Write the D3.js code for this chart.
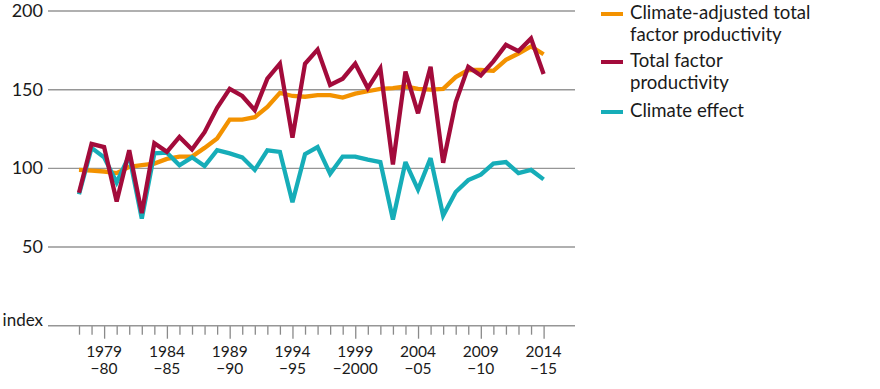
<!DOCTYPE html>
<html>
<head>
<meta charset="utf-8">
<script src="https://cdn.jsdelivr.net/npm/d3@7"></script>
<style>
  body { margin: 0; background: #fff; }
  text { font-family: Lato, "Open Sans", sans-serif; fill: #1a1a1a; }
</style>
</head>
<body>
<svg id="chart"></svg>
<script>
const years = d3.range(1977, 2015);

const adjusted = [99, 98.5, 98, 97, 101, 102, 103, 106, 107.5, 107.5, 113, 119, 131, 131, 132.5, 139, 148, 146,
  145.5, 146.5, 146.5, 145, 147.5, 149, 150.5, 151, 152, 150.5, 150, 150.5, 158, 162.5, 162.5, 162, 169, 173, 177.5, 172.5];

const tfp = [84.5, 115.5, 113.5, 79, 111.5, 71.5, 116, 110.5, 120, 112, 123, 138.5, 150.5, 146, 137, 157, 166.5, 119.5,
  166.5, 175.5, 153, 157, 166.5, 151, 163.5, 102.5, 161.5, 135, 164.5, 103.5, 142, 164.5, 159, 168, 178.5, 174.5, 182.5, 160];

const climate = [83.5, 113, 107, 91, 108, 68, 109.5, 110, 102, 107, 101.5, 111.5, 109.5, 107, 99, 111.5, 110.5, 78.5,
  109, 113.5, 96.5, 107.5, 107.5, 105.5, 104, 67.5, 104, 86.5, 106.5, 70, 85, 92.5, 96, 103, 104, 97, 99, 93];

const yTicks = [50, 100, 150, 200];
const majorYears = [1979, 1984, 1989, 1994, 1999, 2004, 2009, 2014];
const secondLine = ["\u221280", "\u221285", "\u221290", "\u221295", "\u22122000", "\u221205", "\u221210", "\u221215"];

const series = [
  { name: ["Climate-adjusted total", "factor productivity"], values: adjusted, color: "#f39200" },
  { name: ["Total factor", "productivity"], values: tfp, color: "#a30b3b" },
  { name: ["Climate effect"], values: climate, color: "#16adb8" }
];
const drawOrder = [0, 2, 1];

const width = 880;
const height = 389;
const gridLeft = 48, gridRight = 575;

const svg = d3.select("#chart")
  .attr("width", width)
  .attr("height", height);

const x = d3.scaleLinear()
  .domain([1977, 2014])
  .range([79, 543.6]);

const y = d3.scaleLinear()
  .domain([0, 200])
  .range([325.7, 11]);

// gridlines and y labels
svg.selectAll(".grid")
  .data(yTicks)
  .enter()
  .append("line")
  .attr("x1", gridLeft)
  .attr("x2", gridRight)
  .attr("y1", d => y(d))
  .attr("y2", d => y(d))
  .attr("stroke", "#969696")
  .attr("stroke-width", 1.4);

svg.selectAll(".ylab")
  .data(yTicks)
  .enter()
  .append("text")
  .attr("x", 43)
  .attr("y", d => y(d) + 6)
  .attr("text-anchor", "end")
  .style("font-size", "18px")
  .text(d => d);

// x axis, a tick for every year
const xAxis = d3.axisBottom(x)
  .tickValues(years)
  .tickSize(9)
  .tickFormat("");

const axisG = svg.append("g")
  .attr("transform", `translate(0, ${y(0)})`)
  .call(xAxis);

axisG.select(".domain").remove();
axisG.selectAll(".tick line")
  .attr("stroke", "#8a8a8a")
  .attr("stroke-width", 1.3)
  .attr("y2", d => majorYears.includes(d) ? 13 : 9);

svg.append("line")
  .attr("x1", gridLeft)
  .attr("x2", gridRight)
  .attr("y1", y(0))
  .attr("y2", y(0))
  .attr("stroke", "#969696")
  .attr("stroke-width", 1.4);

svg.selectAll(".xlab1")
  .data(majorYears)
  .enter()
  .append("text")
  .attr("x", d => x(d))
  .attr("y", 357)
  .attr("text-anchor", "middle")
  .style("font-size", "15.5px")
  .text(d => d);

svg.selectAll(".xlab2")
  .data(majorYears)
  .enter()
  .append("text")
  .attr("x", d => x(d))
  .attr("y", 374)
  .attr("text-anchor", "middle")
  .style("font-size", "15.5px")
  .text((d, i) => secondLine[i]);

svg.append("text")
  .attr("x", 43)
  .attr("y", y(0))
  .attr("text-anchor", "end")
  .style("font-size", "17px")
  .text("index");

// lines
const line = d3.line()
  .x((d, i) => x(years[i]))
  .y(d => y(d));

drawOrder.forEach(k => {
  svg.append("path")
    .datum(series[k].values)
    .attr("fill", "none")
    .attr("stroke", series[k].color)
    .attr("stroke-width", 4.3)
    .attr("stroke-linejoin", "miter")
    .attr("stroke-miterlimit", 3)
    .attr("d", line);
});

// legend
const legendTop = [14, 62, 112];
const legend = svg.selectAll(".legend")
  .data(series)
  .enter()
  .append("g")
  .attr("transform", (d, i) => `translate(601, ${legendTop[i]})`);

legend.append("line")
  .attr("x1", 0)
  .attr("x2", 22)
  .attr("stroke", d => d.color)
  .attr("stroke-width", 4);

legend.append("text")
  .style("font-size", "18.6px")
  .selectAll("tspan")
  .data(d => d.name)
  .enter()
  .append("tspan")
  .attr("x", 29)
  .attr("y", (d, i) => 5 + i * 21.5)
  .text(d => d);
</script>
</body>
</html>
